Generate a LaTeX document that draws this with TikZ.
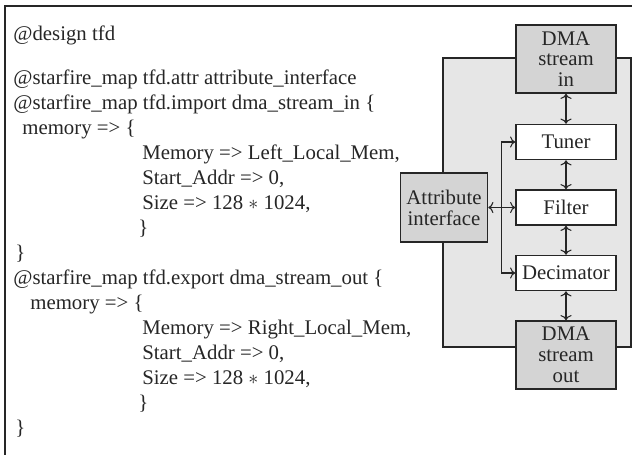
\documentclass[tikz,border=0pt]{standalone}
\usepackage{fontspec}
\setmainfont{Liberation Serif}
\usetikzlibrary{shapes,arrows,arrows.meta,positioning}
\definecolor{inkgray}{HTML}{262626}
\definecolor{boxgray}{HTML}{D4D4D4}
\definecolor{panelgray}{HTML}{E6E6E6}

\begin{document}
\begin{tikzpicture}[x=0.5pt, y=-0.5pt, node distance=14.5pt, >={To[length=2.6pt,width=5.6pt]}, color=inkgray,
    font=\fontsize{10.4}{10.4}\selectfont]
  \tikzstyle{block} = [draw, rectangle, fill=white, minimum width=50pt, minimum height=17.5pt, inner sep=1pt, line width=0.75pt]
  \tikzstyle{port} = [block, fill=boxgray, minimum height=34pt, align=center]
  \tikzstyle{codeline} = [anchor=base west, inner sep=0pt]
  \tikzstyle{link} = [<->, line width=0.55pt]
  \useasboundingbox (0,0) rectangle (632,455);
  \fill[white] (0,0) rectangle (632,455);
  \draw[line width=0.75pt] (5,455) |- (632,6);
  % starfire mapping
  \foreach \x/\y/\txt [count=\i] in {13/40/{@design tfd},
      13/84/{@starfire\_map tfd.attr attribute\_interface},
      13/109/{@starfire\_map tfd.import dma\_stream\_in \{},
      22/134/{memory => \{},
      142/159/{Memory => Left\_Local\_Mem,},
      142/184/{Start\_Addr => 0,},
      142/209/{Size => 128 $\ast$ 1024,},
      138/234/{\}},
      15/259/{\}},
      13/284/{@starfire\_map tfd.export dma\_stream\_out \{},
      30/309/{memory => \{},
      142/334/{Memory => Right\_Local\_Mem,},
      142/359/{Start\_Addr => 0,},
      142/384/{Size => 128 $\ast$ 1024,},
      138/409/{\}},
      15/434/{\}}}
    \node[codeline] (code\i) at (\x,\y) {\txt};
  % tfd design
  \draw[fill=panelgray, line width=0.75pt] (443,58) rectangle (631,347);
  \node[port] (dmain) at (566,59) {DMA\\stream\\in};
  \node[block, below=15pt of dmain] (tuner) {Tuner};
  \node[block, below=of tuner] (filter) {Filter};
  \node[block, below=of filter] (decim) {Decimator};
  \node[port, below=of decim] (dmaout) {DMA\\stream\\out};
  \node[port, left=13.5pt of filter, minimum width=43.5pt, minimum height=34.5pt] (attr) {Attribute\\interface};
  \coordinate[right=6.5pt of attr.east] (bus);
  \draw[link] (dmain) -- (tuner);
  \draw[link] (tuner) -- (filter);
  \draw[link] (filter) -- (decim);
  \draw[link] (decim) -- (dmaout);
  \draw[link] (attr) -- (filter);
  \draw[link] (tuner.west) -| (bus |- decim.west) -- (decim.west);
\end{tikzpicture}
\end{document}
